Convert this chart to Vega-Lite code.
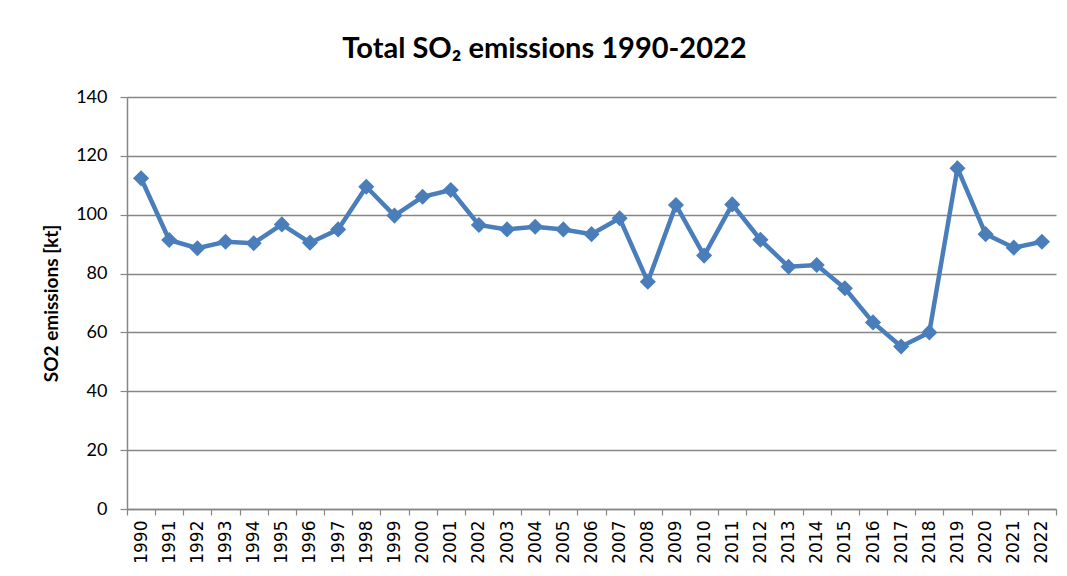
{
  "$schema": "https://vega.github.io/schema/vega-lite/v6.json",
  "autosize": "none",
  "padding": {"left": 127, "top": 97, "right": 11, "bottom": 67},
  "width": 929,
  "height": 412,
  "background": "white",
  "title": {
    "text": "Total SO₂ emissions 1990-2022",
    "font": "Lato",
    "fontWeight": "bold",
    "fontSize": 29,
    "color": "#000000",
    "anchor": "middle",
    "frame": "group",
    "dx": -47,
    "offset": 24
  },
  "data": {
    "values": [
      {"year": 1990, "so2": 112.4},
      {"year": 1991, "so2": 91.4},
      {"year": 1992, "so2": 88.6},
      {"year": 1993, "so2": 90.8},
      {"year": 1994, "so2": 90.3},
      {"year": 1995, "so2": 96.7},
      {"year": 1996, "so2": 90.5},
      {"year": 1997, "so2": 95.0},
      {"year": 1998, "so2": 109.5},
      {"year": 1999, "so2": 99.7},
      {"year": 2000, "so2": 106.1},
      {"year": 2001, "so2": 108.4},
      {"year": 2002, "so2": 96.5},
      {"year": 2003, "so2": 95.0},
      {"year": 2004, "so2": 95.9},
      {"year": 2005, "so2": 95.0},
      {"year": 2006, "so2": 93.4},
      {"year": 2007, "so2": 98.8},
      {"year": 2008, "so2": 77.2},
      {"year": 2009, "so2": 103.3},
      {"year": 2010, "so2": 86.1},
      {"year": 2011, "so2": 103.5},
      {"year": 2012, "so2": 91.5},
      {"year": 2013, "so2": 82.3},
      {"year": 2014, "so2": 82.9},
      {"year": 2015, "so2": 75.0},
      {"year": 2016, "so2": 63.4},
      {"year": 2017, "so2": 55.2},
      {"year": 2018, "so2": 60.0},
      {"year": 2019, "so2": 115.8},
      {"year": 2020, "so2": 93.4},
      {"year": 2021, "so2": 88.8},
      {"year": 2022, "so2": 90.8}
    ]
  },
  "encoding": {
    "x": {
      "field": "year",
      "type": "quantitative",
      "scale": {"domain": [1989.5, 2022.5], "nice": false, "zero": false},
      "axis": {
        "title": null,
        "values": [1989.5, 1990, 1990.5, 1991, 1991.5, 1992, 1992.5, 1993, 1993.5, 1994, 1994.5, 1995, 1995.5, 1996, 1996.5, 1997, 1997.5, 1998, 1998.5, 1999, 1999.5, 2000, 2000.5, 2001, 2001.5, 2002, 2002.5, 2003, 2003.5, 2004, 2004.5, 2005, 2005.5, 2006, 2006.5, 2007, 2007.5, 2008, 2008.5, 2009, 2009.5, 2010, 2010.5, 2011, 2011.5, 2012, 2012.5, 2013, 2013.5, 2014, 2014.5, 2015, 2015.5, 2016, 2016.5, 2017, 2017.5, 2018, 2018.5, 2019, 2019.5, 2020, 2020.5, 2021, 2021.5, 2022, 2022.5],
        "labelExpr": "datum.value % 1 == 0 ? toString(datum.value) : ''",
        "labelAngle": -90,
        "labelAlign": "right",
        "labelBaseline": "middle",
        "labelFont": "DejaVu Sans",
        "labelFontSize": 17,
        "labelColor": "#000000",
        "labelPadding": 5,
        "labelOverlap": false,
        "labelFlush": false,
        "labelBound": false,
        "grid": false,
        "domainColor": "#868686",
        "domainWidth": 1.5,
        "tickColor": "#868686",
        "tickWidth": 1.2,
        "tickSize": 6,
        "tickOpacity": {"condition": {"test": "datum.value % 1 == 0", "value": 0}, "value": 1}
      }
    },
    "y": {
      "field": "so2",
      "type": "quantitative",
      "scale": {"domain": [0, 140], "nice": false},
      "axis": {
        "title": "SO2 emissions [kt]",
        "titleFont": "Lato",
        "titleFontWeight": "bold",
        "titleFontSize": 19,
        "titleColor": "#000000",
        "titlePadding": 14,
        "values": [0, 20, 40, 60, 80, 100, 120, 140],
        "labelFont": "Lato",
        "labelFontSize": 18,
        "labelColor": "#000000",
        "labelPadding": 13,
        "grid": true,
        "gridColor": "#868686",
        "gridWidth": 1.5,
        "domainColor": "#868686",
        "domainWidth": 1.5,
        "tickColor": "#868686",
        "tickWidth": 1.2,
        "tickSize": 7
      }
    }
  },
  "layer": [
    {
      "mark": {"type": "line", "color": "#4a7ebb", "strokeWidth": 4.5}
    },
    {
      "mark": {"type": "point", "shape": "diamond", "filled": true, "opacity": 1, "color": "#4a7ebb", "size": 260}
    }
  ],
  "config": {"view": {"stroke": null}}
}
